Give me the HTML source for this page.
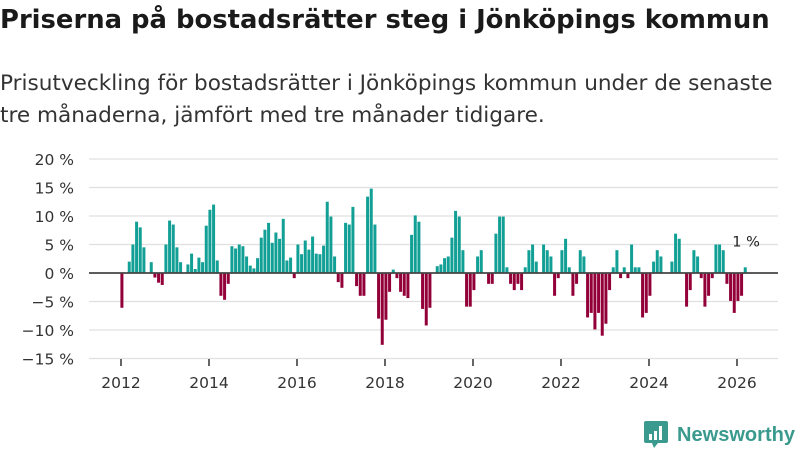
<!DOCTYPE html>
<html><head><meta charset="utf-8"><style>
body{margin:0;background:#fff;width:800px;height:450px;overflow:hidden;font-family:"DejaVu Sans","Liberation Sans",sans-serif;color:#222}
#title{position:absolute;left:0;top:5px;font-size:24px;font-weight:bold;white-space:nowrap;color:#1a1a1a}
#sub{position:absolute;left:0;top:68px;font-size:20px;line-height:32px;color:#333;white-space:nowrap}
svg{position:absolute;left:0;top:0}
</style></head><body>
<div id="title">Priserna på bostadsrätter steg i Jönköpings kommun</div>
<div id="sub"><span id="sub1">Prisutveckling för bostadsrätter i Jönköpings kommun under de senaste</span><br>tre månaderna, jämfört med tre månader tidigare.</div>
<svg id="chart" width="800" height="450"></svg>
<script>
const startYear = 2012;
const values = [-6.1,0,2.0,5.0,9.0,8.0,4.5,0,1.9,-0.8,-1.7,-2.1,5.0,9.2,8.5,4.5,1.9,0,1.5,3.4,0.7,2.7,1.9,8.3,11.1,12.0,2.2,-4.0,-4.7,-1.9,4.7,4.3,5.0,4.7,2.9,1.3,0.8,2.6,6.2,7.6,8.8,5.3,7.1,6.0,9.5,2.2,2.7,-0.9,5.0,3.3,5.7,4.1,6.4,3.4,3.3,4.8,12.5,9.9,2.9,-1.6,-2.6,8.8,8.5,11.6,-2.3,-4.0,-4.0,13.4,14.8,8.5,-8.0,-12.6,-8.2,-3.3,0.6,-0.9,-3.3,-4.0,-4.4,6.7,10.1,9.0,-6.3,-9.2,-6.1,0,1.2,1.5,2.6,2.9,6.2,10.9,9.9,4.0,-5.9,-5.9,-3.0,2.9,4.0,0,-1.9,-1.9,6.9,9.9,9.9,1.0,-1.9,-3.0,-1.9,-3.0,1.0,4.0,5.0,2.0,0,5.0,4.0,2.9,-4.0,-0.9,4.0,6.0,1.0,-4.0,-1.9,4.0,2.9,-7.8,-7.0,-9.9,-7.0,-11.0,-8.9,-3.0,1.0,4.0,-0.9,1.0,-0.9,5.0,1.0,1.0,-7.8,-7.0,-4.0,2.0,4.0,2.9,0,0,2.0,6.9,6.0,0,-5.9,-3.0,4.0,2.9,-0.9,-5.9,-4.0,-0.9,5.0,5.0,4.0,-1.9,-4.9,-7.0,-4.9,-4.0,1.0];
const yTicks = [20,15,10,5,0,-5,-10,-15];
const yTickLabels = ["20 %","15 %","10 %","5 %","0 %","\u22125 %","\u221210 %","\u221215 %"];
const xTicks = [2012,2014,2016,2018,2020,2022,2024,2026];
const lastLabel = "1 %";

// fit header text widths
(function(){
  const t=document.getElementById('title');
  t.style.fontSize=(24*770/t.getBoundingClientRect().width)+'px';
  const s1=document.getElementById('sub1');
  document.getElementById('sub').style.fontSize=(20*773/s1.getBoundingClientRect().width)+'px';
})();

const svg = document.getElementById('chart');
const NS = 'http://www.w3.org/2000/svg';
const FONT = 'DejaVu Sans, Liberation Sans, sans-serif';
const y = v => 273 - v * 5.7;
const x = t => 121 + (t - startYear) * 44.0;
function mk(tag, attrs){const e=document.createElementNS(NS,tag);for(const k in attrs)e.setAttribute(k,attrs[k]);svg.appendChild(e);return e;}
yTicks.forEach((v,i)=>{
  if(v!==0){const g=mk('line',{x1:89,x2:778,y1:y(v),y2:y(v),stroke:'#e0e0e0','stroke-width':1.2});
  
  }
  const t=mk('text',{x:74,y:y(v)+6,'text-anchor':'end','font-size':15.5,fill:'#333','font-family':FONT});
  t.textContent=yTickLabels[i];
  
  
});
values.forEach((v,i)=>{
  if(v===0) return;
  const cx = x(startYear + (i+0.25)/12);
  const r=mk('rect',{x:cx-1.5,width:3,y:Math.min(y(v),y(0)),height:Math.abs(y(v)-y(0)),fill:v>0?'#12a096':'#930039'});
  
  
});
const zl=mk('line',{x1:89,x2:778,y1:y(0),y2:y(0),stroke:'#444','stroke-width':1.8});


xTicks.forEach(yr=>{
  const tk=mk('line',{x1:x(yr),x2:x(yr),y1:359,y2:366,stroke:'#333','stroke-width':1.5});
  
  
  const t=mk('text',{x:x(yr),y:388,'text-anchor':'middle','font-size':15.5,fill:'#333','font-family':FONT});
  t.textContent=yr;
  
  
});
const li=values.length-1;
const ll=mk('text',{x:x(startYear+(li+0.25)/12)-13,y:y(values[li])-21,'text-anchor':'start','font-size':14.5,fill:'#222','font-family':FONT});
ll.textContent=lastLabel;


</script>
<svg width="800" height="450" style="pointer-events:none">
  <path d="M646 421 h20 a2 2 0 0 1 2 2 v18 a2 2 0 0 1 -2 2 h-8 l-4 5 l-2 -5 h-6 a2 2 0 0 1 -2 -2 v-18 a2 2 0 0 1 2 -2z" fill="#3a9a8e"/>
  <rect x="649" y="434" width="3" height="6" fill="#fff"/><rect x="654" y="431" width="3" height="9" fill="#fff"/><rect x="659" y="426" width="3" height="14" fill="#fff"/>
  <text x="677" y="441" font-size="20" font-weight="bold" fill="#3a9a8e" font-family="Liberation Sans, sans-serif" textLength="118" lengthAdjust="spacingAndGlyphs">Newsworthy</text>
</svg>
</body></html>
